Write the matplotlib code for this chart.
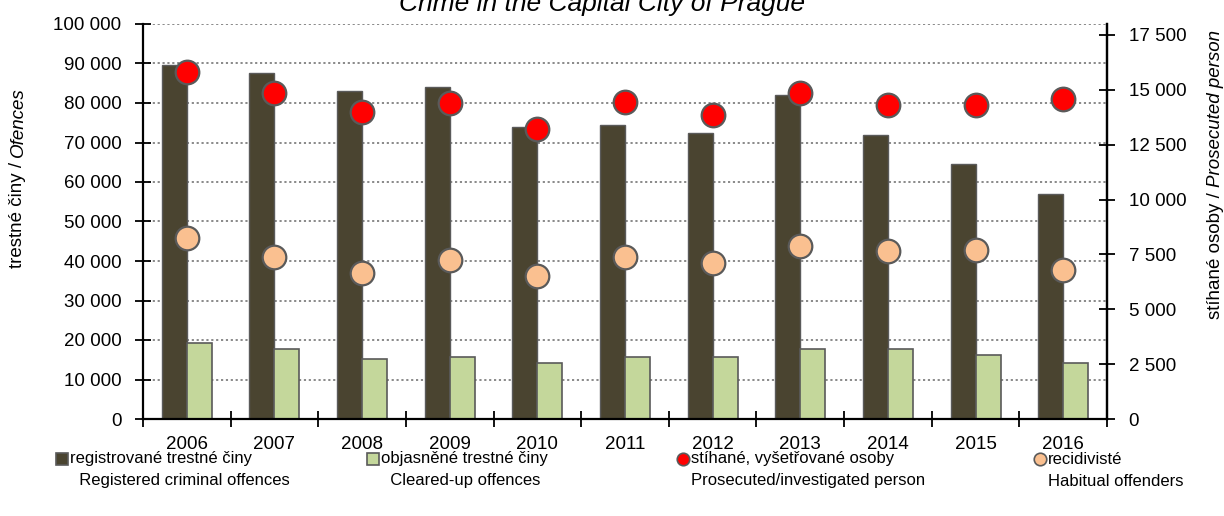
import matplotlib
matplotlib.use("Agg")
import matplotlib.pyplot as plt
import numpy as np
from matplotlib.lines import Line2D
from matplotlib.ticker import FuncFormatter, FixedLocator
from matplotlib.transforms import Bbox, TransformedBbox

plt.rcParams['font.family'] = ['Liberation Sans', 'DejaVu Sans']

years = ['2006', '2007', '2008', '2009', '2010', '2011', '2012', '2013', '2014', '2015', '2016']
registered = [89700, 87600, 83100, 84100, 74000, 74500, 72500, 82100, 72000, 64500, 56900]
cleared = [19300, 17800, 15200, 15700, 14200, 15700, 15700, 17800, 17800, 16300, 14200]
prosecuted = [15830, 14850, 14000, 14420, 13200, 14460, 13870, 14870, 14310, 14310, 14590]
habitual = [8260, 7370, 6640, 7230, 6500, 7380, 7110, 7900, 7670, 7700, 6790]

c_reg = '#4A4430'
c_clr = '#C4D79B'
c_pros = '#FF0000'
c_hab = '#FAC090'
edge = '#5A5A5A'

W, H = 1224, 516
fig = plt.figure(figsize=(W / 100, H / 100), dpi=100)
ax = fig.add_axes([143 / W, 1 - 419 / H, (1107 - 143) / W, (419 - 24) / H])


def fy(y):
    return 1 - y / H


x = np.arange(len(years))
bw = 0.285
ax.bar(x - bw / 2, registered, bw, color=c_reg, edgecolor=edge, linewidth=1, zorder=2)
ax.bar(x + bw / 2, cleared, bw, color=c_clr, edgecolor=edge, linewidth=1.2, zorder=2)

ax.set_xlim(-0.5, len(years) - 0.5)
ax.set_ylim(0, 100000)
ax.yaxis.set_major_locator(FixedLocator(np.arange(0, 100001, 10000)))
ax.yaxis.grid(True, linestyle=(0, (1.2, 1.5)), color='#808080', linewidth=1.3, zorder=0)
ax.set_axisbelow(True)

fmt = FuncFormatter(lambda v, p: format(int(round(v)), ',').replace(',', ' '))
ax.yaxis.set_major_formatter(fmt)

# year labels in the middle of each category, ticks on the boundaries
ax.set_xticks(np.arange(-0.5, len(years), 1.0))
ax.set_xticklabels([])
ax.set_xticks(x, minor=True)
ax.set_xticklabels(years, minor=True)
ax.tick_params(axis='x', which='major', direction='inout', length=11, width=1.3, color='black')
ax.tick_params(axis='x', which='minor', length=0, pad=12, labelsize=13.5)
ax.tick_params(axis='y', direction='inout', length=11, width=1.3, labelsize=13.5, pad=10)

for s in ['left', 'bottom', 'right']:
    ax.spines[s].set_linewidth(1.6)
    ax.spines[s].set_color('black')
ax.spines['top'].set_visible(False)

ax2 = ax.twinx()
ax2.set_ylim(0, 18000)
ax2.yaxis.set_major_locator(FixedLocator(np.arange(0, 17501, 2500)))
ax2.yaxis.set_major_formatter(fmt)
ax2.tick_params(axis='y', direction='inout', length=11, width=1.3, labelsize=13.5, pad=10)
for s in ['left', 'bottom', 'top']:
    ax2.spines[s].set_visible(False)
ax2.spines['right'].set_linewidth(1.6)

ax2.plot(x, prosecuted, linestyle='none', marker='o', ms=17, mfc=c_pros, mec=edge, mew=1.6, zorder=3)
ax2.plot(x, habitual, linestyle='none', marker='o', ms=17, mfc=c_hab, mec=edge, mew=1.6, zorder=3)

# axis titles: plain Czech part, italic English part
fig.text(18 / W, fy(157), 'trestné činy / ', rotation=90, rotation_mode='anchor',
         ha='right', va='center', fontsize=13.5)
fig.text(18 / W, fy(157), 'Ofences', rotation=90, rotation_mode='anchor',
         ha='left', va='center', fontsize=13.5, style='italic')
fig.text(1215 / W, fy(187), 'stíhané osoby / ', rotation=90, rotation_mode='anchor',
         ha='right', va='center', fontsize=13.5)
fig.text(1215 / W, fy(187), 'Prosecuted person', rotation=90, rotation_mode='anchor',
         ha='left', va='center', fontsize=13.5, style='italic')

fig.text(602 / W, fy(11), 'Crime in the Capital City of Prague', ha='center',
         va='baseline', fontsize=19, style='italic')

# legend row
entries = [
    (62, 's', c_reg, 'registrované trestné činy', '  Registered criminal offences'),
    (373, 's', c_clr, 'objasněné trestné činy', '  Cleared-up offences'),
    (683, 'o', c_pros, 'stíhané, vyšetřované osoby', 'Prosecuted/investigated person'),
    (1040, 'o', c_hab, 'recidivisté', 'Habitual offenders'),
]
for mx, mk, col, l1, l2 in entries:
    fig.add_artist(Line2D([mx / W], [fy(459)], marker=mk, ms=8 if mk == 's' else 9,
                          mfc=col, mec=edge, mew=1.2, linestyle='none',
                          transform=fig.transFigure))
    fig.text((mx + 8) / W, fy(459), l1, ha='left', va='center', fontsize=12)
    fig.text((mx + 8) / W, fy(481), l2, ha='left', va='center', fontsize=12)

# the year row is cut off just above the legend
fig.canvas.draw()
clip = TransformedBbox(Bbox([[0, fy(449)], [1, 1]]), fig.transFigure)
for tick in ax.xaxis.get_minor_ticks():
    tick.label1.set_clip_on(True)
    tick.label1.set_clip_box(clip)

fig.savefig('out.png', dpi=100)
